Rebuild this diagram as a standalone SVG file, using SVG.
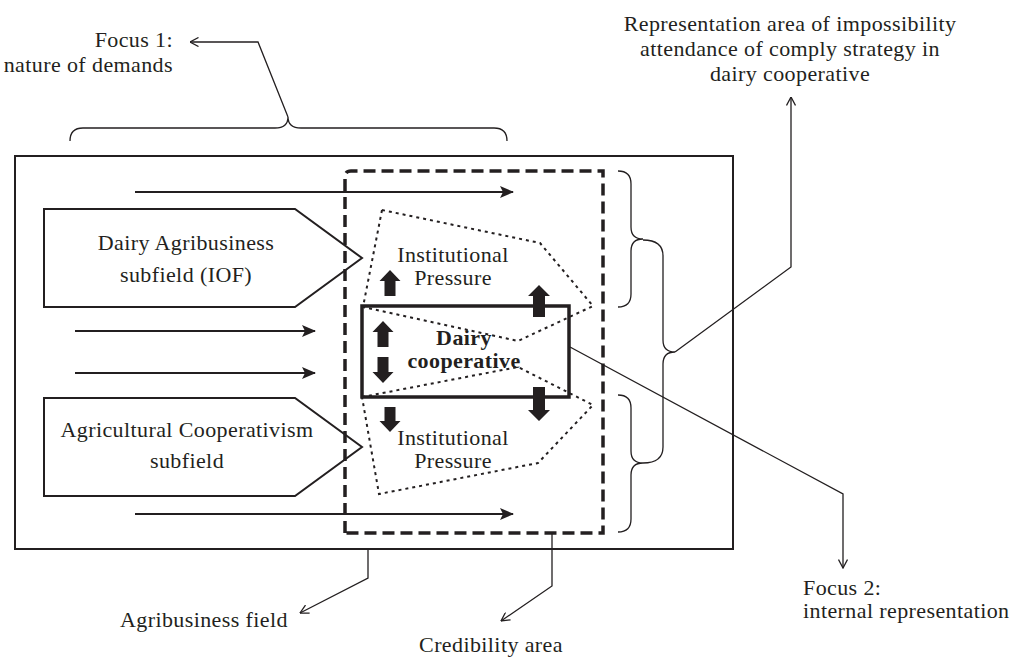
<svg xmlns="http://www.w3.org/2000/svg" width="1021" height="658" viewBox="0 0 1021 658">
<style>
text{font-family:"Liberation Serif","Times New Roman",serif;font-size:22px;letter-spacing:0.4px;fill:#231f20}
.c{text-anchor:middle}
.e{text-anchor:end}
.b{font-weight:bold}
.thin{fill:none;stroke:#231f20;stroke-width:1.3}
.box{fill:none;stroke:#231f20;stroke-width:2}
.flow{fill:none;stroke:#231f20;stroke-width:1.8;marker-end:url(#solid)}
.call{fill:none;stroke:#231f20;stroke-width:1.3;marker-end:url(#open)}
.dots{fill:none;stroke:#231f20;stroke-width:2;stroke-dasharray:3 4}
.blk{fill:#231f20}
</style>
<defs>
<marker id="solid" viewBox="0 0 14 12" refX="13" refY="6" markerWidth="14" markerHeight="12" markerUnits="userSpaceOnUse" orient="auto"><path d="M0,0 L14,6 L0,12 L3,6 Z" fill="#231f20"/></marker>
<marker id="open" viewBox="0 0 10 10" refX="9.5" refY="5" markerWidth="10" markerHeight="10" markerUnits="userSpaceOnUse" orient="auto"><path d="M1,0.5 L9.5,5 L1,9.5" fill="none" stroke="#231f20" stroke-width="1.3"/></marker>
</defs>

<g id="agribusiness-field">
<rect x="15" y="156" width="718" height="393" class="box"/>
</g>

<g id="credibility-area">
<path d="M345,533 L345,177 Q345,171 351,171 L603,171 L603,533 Z" fill="none" stroke="#231f20" stroke-width="3.5" stroke-dasharray="12 6"/>
</g>

<g id="pressure-upper">
<path d="M382,210 L540,243 L593,306 L518,341 L363,307 Z" class="dots"/>
<text x="453" y="262" class="c">Institutional</text>
<text x="453" y="285" class="c">Pressure</text>
</g>

<g id="pressure-lower">
<path d="M362,397 L518,367 L593,405 L538,463 L379,494 Z" class="dots"/>
<text x="453" y="445" class="c">Institutional</text>
<text x="453" y="468" class="c">Pressure</text>
</g>

<g id="dairy-cooperative">
<rect x="362" y="306" width="207" height="91" fill="none" stroke="#231f20" stroke-width="3.5"/>
<text x="464" y="345" class="c b">Dairy</text>
<text x="464" y="368" class="c b">cooperative</text>
</g>

<g id="dairy-agribusiness-subfield">
<path d="M44,209 L295,209 L362,258 L295,307 L44,307 Z" class="box" fill="#fff"/>
<text x="186" y="250" class="c">Dairy Agribusiness</text>
<text x="186" y="282" class="c">subfield (IOF)</text>
</g>

<g id="agricultural-cooperativism-subfield">
<path d="M44,398 L295,398 L362,447 L295,496 L44,496 Z" class="box" fill="#fff"/>
<text x="187" y="437" class="c">Agricultural Cooperativism</text>
<text x="187" y="468" class="c">subfield</text>
</g>

<g id="pressure-arrows">
<path class="blk" d="M390,270 L400.5,281 L395.5,281 L395.5,296 L384.5,296 L384.5,281 L379.5,281 Z"/>
<path class="blk" d="M539,285 L550,296 L545,296 L545,317 L533,317 L533,296 L528,296 Z"/>
<path class="blk" d="M383,321 L393.5,332 L388.5,332 L388.5,347 L377.5,347 L377.5,332 L372.5,332 Z"/>
<path class="blk" d="M377.5,357 L388.5,357 L388.5,372 L393.5,372 L383,383 L372.5,372 L377.5,372 Z"/>
<path class="blk" d="M384.5,407 L395.5,407 L395.5,421 L400.5,421 L390,432 L379.5,421 L384.5,421 Z"/>
<path class="blk" d="M533,387 L545,387 L545,410 L550,410 L539,421 L528,410 L533,410 Z"/>
</g>

<g id="braces">
<path class="thin" d="M70,141 Q70,128 83,128 L275,128 Q288,128 288,117 Q288,128 301,128 L494,128 Q507,128 507,141"/>
<path class="thin" d="M618,171 Q631,171 631,184 L631,227 Q631,239 643,239 Q631,239 631,251 L631,294 Q631,307 618,307"/>
<path class="thin" d="M618,395 Q631,395 631,408 L631,451 Q631,463 643,463 Q631,463 631,475 L631,519 Q631,532 618,532"/>
<path class="thin" d="M643,240 Q663,240 663,256 L663,340 Q663,352 675,352 Q663,352 663,364 L663,447 Q663,463 643,463"/>
</g>

<g id="connectors">
<path class="flow" d="M135,192 L513,192"/>
<path class="flow" d="M75,331 L315,331"/>
<path class="flow" d="M75,373 L315,373"/>
<path class="flow" d="M135,514 L513,514"/>
<path class="call" d="M288,117 L258,42 L190,42"/>
<path class="call" d="M675,352 L791,267 L791,97"/>
<path class="call" d="M570,347 L843,494 L843,568"/>
<path class="call" d="M368,549 L368,578 L300,613"/>
<path class="call" d="M552,533 L552,586 L501,621"/>
</g>

<g id="focus-1">
<text x="173" y="47" class="e">Focus 1:</text>
<text x="173" y="72" class="e">nature of demands</text>
</g>

<g id="representation-area">
<text x="790" y="31" class="c">Representation area of impossibility</text>
<text x="790" y="56" class="c">attendance of comply strategy in</text>
<text x="790" y="81" class="c">dairy cooperative</text>
</g>

<g id="focus-2">
<text x="803" y="595">Focus 2:</text>
<text x="803" y="618">internal representation</text>
</g>

<g id="label-agribusiness-field">
<text x="120" y="627">Agribusiness field</text>
</g>

<g id="label-credibility-area">
<text x="491" y="652" class="c">Credibility area</text>
</g>
</svg>
